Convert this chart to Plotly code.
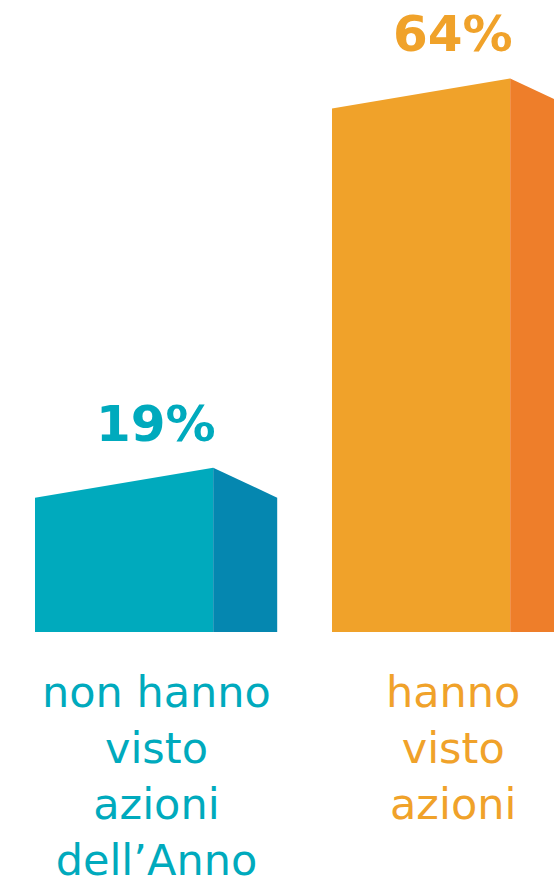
import plotly.graph_objects as go

# ---- data ----
categories = ["non hanno<br>visto<br>azioni<br>dell’Anno", "hanno<br>visto<br>azioni"]
values = [19, 64]
value_labels = ["19%", "64%"]
front_colors = ["#00AABD", "#F0A22A"]
side_colors = ["#0587B0", "#EE7E2A"]
text_colors = ["#00AABD", "#F0A22A"]

# ---- geometry (in axis units) ----
front_w = 0.60       # front face width (category spacing = 1)
side_d = 0.2155      # side face depth
slant = 3.47         # drop of the top edge (value units)
FONT = "DejaVu Sans"

fig = go.Figure()
for i, (v, fc, sc) in enumerate(zip(values, front_colors, side_colors)):
    x0 = i
    x1 = i + front_w
    x2 = x1 + side_d
    fig.add_trace(go.Scatter(
        x=[x0, x0, x1, x1, x0], y=[0, v - slant, v, 0, 0],
        mode="lines", fill="toself", fillcolor=fc,
        line=dict(width=0, color=fc), hoverinfo="skip", showlegend=False))
    fig.add_trace(go.Scatter(
        x=[x1, x1, x2, x2, x1], y=[0, v, v - slant, 0, 0],
        mode="lines", fill="toself", fillcolor=sc,
        line=dict(width=0, color=sc), hoverinfo="skip", showlegend=False))
    cx = i + (front_w + side_d) / 2
    fig.add_annotation(x=cx, y=v, text=value_labels[i], showarrow=False,
                       yanchor="bottom", xanchor="center", yshift=13,
                       font=dict(family=FONT, size=50, color=text_colors[i], weight="bold"))
    fig.add_annotation(x=cx, y=0, text=categories[i], showarrow=False,
                       yanchor="top", xanchor="center", yshift=-33,
                       font=dict(family=FONT, size=43, color=text_colors[i]))

px_per_unit = 297.0
s = 8.65  # px per value unit
fig.update_layout(
    width=554, height=885,
    margin=dict(l=0, r=0, t=0, b=0),
    paper_bgcolor="white", plot_bgcolor="white",
    xaxis=dict(range=[-35 / px_per_unit, (554 - 35) / px_per_unit], visible=False, fixedrange=True),
    yaxis=dict(range=[-(885 - 632) / s, 632 / s], visible=False, fixedrange=True),
)
fig.write_html("out.html", config={"displayModeBar": False},
               post_script="document.body.style.margin='0';document.body.style.overflow='hidden';")
